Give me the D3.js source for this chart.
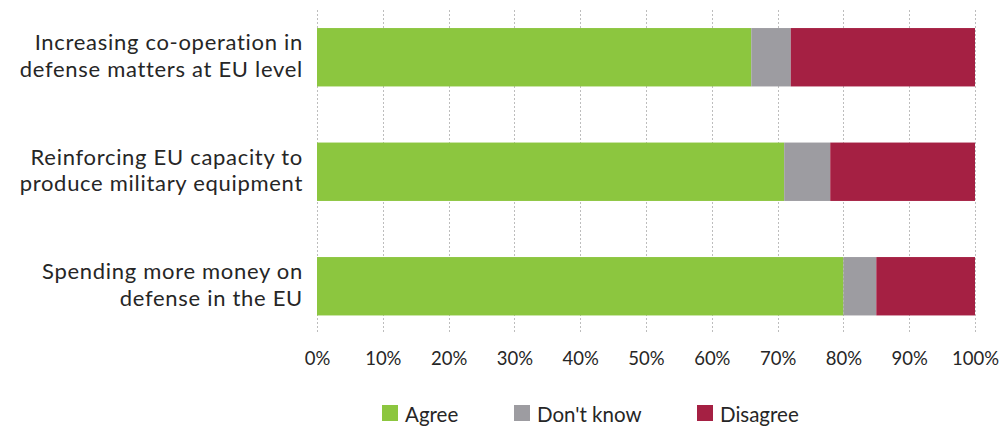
<!DOCTYPE html>
<html>
<head>
<meta charset="utf-8">
<script src="https://cdn.jsdelivr.net/npm/d3@7"></script>
<style>
  body { margin: 0; background: #fff; }
  text { font-family: Lato, "Open Sans", sans-serif; fill: #262626; }
</style>
</head>
<body>
<div id="chart"></div>
<script>
var categories = [
  ["Increasing co-operation in", "defense matters at EU level"],
  ["Reinforcing EU capacity to", "produce military equipment"],
  ["Spending more money on", "defense in the EU"]
];
var seriesNames = ["Agree", "Don't know", "Disagree"];
var agree = [66, 71, 80];
var dontKnow = [6, 7, 5];
var disagree = [28, 22, 15];
var xTicks = [0, 10, 20, 30, 40, 50, 60, 70, 80, 90, 100];
var colors = ["#8cc63f", "#9d9ca1", "#a52043"];

var W = 999, H = 427;
var svg = d3.select("#chart").append("svg")
    .attr("width", W)
    .attr("height", H);

var x = d3.scaleLinear().domain([0, 100]).range([317, 975]);
var y = d3.scaleBand()
    .domain(d3.range(categories.length))
    .range([0, 343.5])
    .paddingInner(0.49)
    .paddingOuter(0.245);

// dotted grid
svg.append("g").selectAll("line")
  .data(xTicks)
  .enter().append("line")
    .attr("x1", function(d) { return Math.round(x(d)) + 0.5; })
    .attr("x2", function(d) { return Math.round(x(d)) + 0.5; })
    .attr("y1", 10)
    .attr("y2", 333)
    .attr("stroke", "#bdbdbd")
    .attr("stroke-width", 1)
    .attr("stroke-dasharray", "2,2");

// stack
var rows = categories.map(function(c, i) {
  return {i: i, "Agree": agree[i], "Don't know": dontKnow[i], "Disagree": disagree[i]};
});
var stack = d3.stack().keys(seriesNames)(rows);

svg.append("g").selectAll("g")
  .data(stack)
  .enter().append("g")
    .attr("fill", function(d, k) { return colors[k]; })
  .selectAll("rect")
  .data(function(d) { return d; })
  .enter().append("rect")
    .attr("x", function(d) { return x(d[0]); })
    .attr("width", function(d) { return x(d[1]) - x(d[0]); })
    .attr("y", function(d) { return y(d.data.i); })
    .attr("height", y.bandwidth());

// category labels
var lab = svg.append("g").selectAll("text")
  .data(categories)
  .enter().append("text")
    .attr("text-anchor", "end")
    .attr("x", 303)
    .attr("y", function(d, i) { return y(i) + y.bandwidth() / 2 - 7; })
    .style("font-size", "22px")
    .style("letter-spacing", "0.7px");
lab.selectAll("tspan")
  .data(function(d) { return d; })
  .enter().append("tspan")
    .attr("x", 303)
    .attr("dy", function(d, j) { return j === 0 ? 0 : 26.5; })
    .text(function(d) { return d; });

// x axis labels
var xAxis = d3.axisBottom(x)
    .tickValues(xTicks)
    .tickFormat(function(d) { return d + "%"; })
    .tickSize(0)
    .tickPadding(0);
var ax = svg.append("g")
    .attr("transform", "translate(0,352)")
    .call(xAxis);
ax.select(".domain").remove();
ax.selectAll("text")
    .style("font-size", "18.5px")
    .style("font-family", "Lato, sans-serif")
    .attr("fill", "#262626");

// legend
var legendX = [382, 514, 697];
var lg = svg.append("g").selectAll("g")
  .data(seriesNames)
  .enter().append("g")
    .attr("transform", function(d, i) { return "translate(" + legendX[i] + ",405)"; });
lg.append("rect")
    .attr("width", 16)
    .attr("height", 16)
    .attr("fill", function(d, i) { return colors[i]; });
lg.append("text")
    .attr("x", 23)
    .attr("y", 17)
    .style("font-size", "20.5px")
    .text(function(d) { return d; });
</script>
</body>
</html>
